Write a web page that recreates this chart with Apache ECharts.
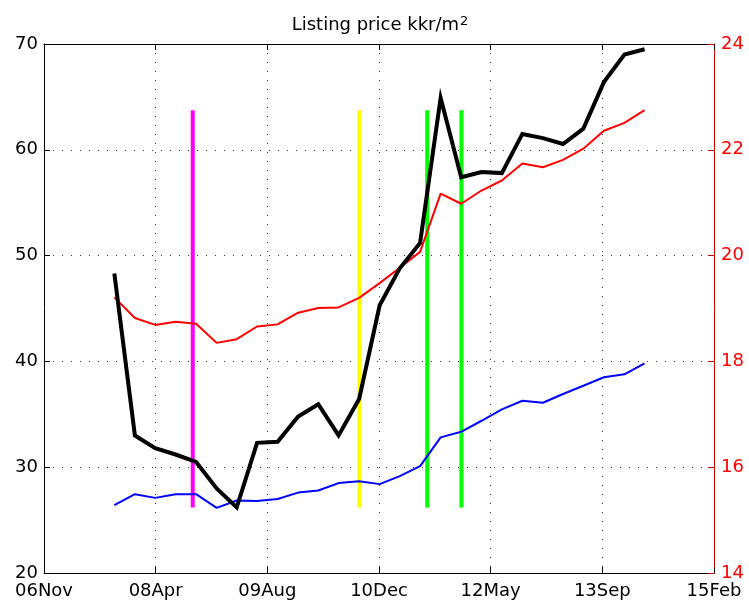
<!DOCTYPE html>
<html>
<head>
<meta charset="utf-8">
<title>Listing price</title>
<script src="https://cdn.jsdelivr.net/npm/echarts@6/dist/echarts.min.js"></script>
<style>
  html, body { margin: 0; padding: 0; background: #ffffff; }
  #chart { width: 749px; height: 604px; }
</style>
</head>
<body>
<div id="chart"></div>
<script>
// Time axis: day offsets from the first tick, one tick every 500 days
const axisOrigin = '2006-11-19';
const tickStepDays = 500;
const tickLabels = ['06Nov', '08Apr', '09Aug', '10Dec', '12May', '13Sep', '15Feb'];

// Quarterly observation dates
const quarters = [
  '2007-09-30', '2007-12-31', '2008-03-31', '2008-06-30', '2008-09-30',
  '2008-12-31', '2009-03-31', '2009-06-30', '2009-09-30', '2009-12-31',
  '2010-03-31', '2010-06-30', '2010-09-30', '2010-12-31', '2011-03-31',
  '2011-06-30', '2011-09-30', '2011-12-31', '2012-03-31', '2012-06-30',
  '2012-09-30', '2012-12-31', '2013-03-31', '2013-06-30', '2013-09-30',
  '2013-12-31', '2014-03-31'
];

// Listing price, kkr/m2 (left axis)
const priceBlack = [
  48.3, 33.0, 31.8, 31.2, 30.5, 28.0, 26.2, 32.3, 32.4, 34.8,
  35.95, 33.0, 36.45, 45.3, 48.8, 51.2, 64.9, 57.4, 57.9, 57.8,
  61.5, 61.1, 60.55, 62.0, 66.4, 69.0, 69.5
];
const priceBlue = [
  26.41, 27.45, 27.1, 27.45, 27.45, 26.15, 26.85, 26.8, 27.0, 27.6,
  27.8, 28.5, 28.68, 28.4, 29.15, 30.1, 32.82, 33.35, 34.39, 35.47,
  36.28, 36.09, 36.92, 37.7, 38.5, 38.78, 39.82
];
// Right axis series
const priceRed = [
  19.21, 18.82, 18.69, 18.75, 18.71, 18.35, 18.42, 18.66, 18.70, 18.92,
  19.01, 19.02, 19.20, 19.48, 19.77, 20.07, 21.17, 20.98, 21.23, 21.42,
  21.74, 21.67, 21.81, 22.02, 22.36, 22.51, 22.75
];

// Event markers
const eventDates = ['2008-09-15', '2010-10-01', '2011-08-01', '2012-01-01'];

// Axis ranges
const leftRange = [20, 70, 10];
const rightRange = [14, 24, 2];

const DAY = 86400000;
const originMs = Date.parse(axisOrigin);
const dayOffset = d => (Date.parse(d) - originMs) / DAY;

const toPairs = vals => quarters.map((q, i) => [dayOffset(q), vals[i]]);

// Event lines run from the lowest black value up to the highest red value (in left-axis units)
const rightToLeft = v => leftRange[0] + (v - rightRange[0]) *
  (leftRange[1] - leftRange[0]) / (rightRange[1] - rightRange[0]);
const eventLow = Math.min(...priceBlack);
const eventHigh = rightToLeft(Math.max(...priceRed));
const eventColors = ['#ff00ff', '#ffff00', '#00ff00', '#00ff00'];

const FONT = 'DejaVu Sans';

const eventSeries = eventDates.map((d, i) => ({
  type: 'line',
  yAxisIndex: 0,
  xAxisIndex: 0,
  symbol: 'none',
  silent: true,
  lineStyle: { color: eventColors[i], width: 4, cap: 'butt' },
  data: [[dayOffset(d), eventLow], [dayOffset(d), eventHigh]],
  z: 2
}));

const chart = echarts.init(document.getElementById('chart'), null, { renderer: 'canvas' });

chart.setOption({
  animation: false,
  backgroundColor: '#ffffff',
  title: {
    text: 'Listing price kkr/m{sup|2}',
    left: 380,
    top: 15,
    padding: 0,
    textAlign: 'center',
    textStyle: {
      fontFamily: FONT,
      fontSize: 18,
      fontWeight: 'normal',
      color: '#000000',
      lineHeight: 20,
      rich: {
        sup: { fontFamily: FONT, fontSize: 13, color: '#000000', verticalAlign: 'top', lineHeight: 20, padding: [0, 0, 10, 1] }
      }
    }
  },
  grid: { left: 44, right: 35, top: 44, bottom: 31 },
  xAxis: [
    {
      type: 'value',
      position: 'bottom',
      min: 0,
      max: tickStepDays * (tickLabels.length - 1),
      interval: tickStepDays,
      axisLine: { show: true, onZero: false, lineStyle: { color: '#000000', width: 1 } },
      axisTick: { show: true, inside: true, length: 6, lineStyle: { color: '#000000' } },
      axisLabel: {
        show: true,
        margin: 9,
        fontFamily: FONT,
        fontSize: 18,
        color: '#000000',
        showMinLabel: true,
        showMaxLabel: true,
        formatter: v => tickLabels[Math.round(v / tickStepDays)]
      },
      splitLine: { show: true, lineStyle: { color: '#333333', width: 1, type: [1, 8] } }
    },
    {
      type: 'value',
      position: 'top',
      min: 0,
      max: tickStepDays * (tickLabels.length - 1),
      interval: tickStepDays,
      axisLine: { show: true, onZero: false, lineStyle: { color: '#000000', width: 1 } },
      axisTick: { show: true, inside: true, length: 6, lineStyle: { color: '#000000' } },
      axisLabel: { show: false },
      splitLine: { show: false }
    }
  ],
  yAxis: [
    {
      type: 'value',
      position: 'left',
      min: leftRange[0],
      max: leftRange[1],
      interval: leftRange[2],
      axisLine: { show: true, onZero: false, lineStyle: { color: '#000000', width: 1 } },
      axisTick: { show: true, inside: true, length: 6, lineStyle: { color: '#000000' } },
      axisLabel: { show: true, margin: 6, fontFamily: FONT, fontSize: 18, color: '#000000' },
      splitLine: { show: true, lineStyle: { color: '#333333', width: 1, type: [1, 8] } }
    },
    {
      type: 'value',
      position: 'right',
      min: rightRange[0],
      max: rightRange[1],
      interval: rightRange[2],
      axisLine: { show: true, onZero: false, lineStyle: { color: '#cc0000', width: 1 } },
      axisTick: { show: true, inside: true, length: 6, lineStyle: { color: '#cc0000' } },
      axisLabel: { show: true, margin: 7, fontFamily: FONT, fontSize: 18, color: '#ff0000' },
      splitLine: { show: false }
    }
  ],
  series: [
    ...eventSeries,
    {
      name: 'blue',
      type: 'line',
      yAxisIndex: 0,
      symbol: 'none',
      lineStyle: { color: '#0000ff', width: 2 },
      data: toPairs(priceBlue),
      z: 3
    },
    {
      name: 'red',
      type: 'line',
      yAxisIndex: 1,
      symbol: 'none',
      lineStyle: { color: '#ff0000', width: 2 },
      data: toPairs(priceRed),
      z: 4
    },
    {
      name: 'black',
      type: 'line',
      yAxisIndex: 0,
      symbol: 'none',
      lineStyle: { color: '#000000', width: 4, join: 'miter' },
      data: toPairs(priceBlack),
      z: 5
    }
  ]
});
</script>
</body>
</html>
